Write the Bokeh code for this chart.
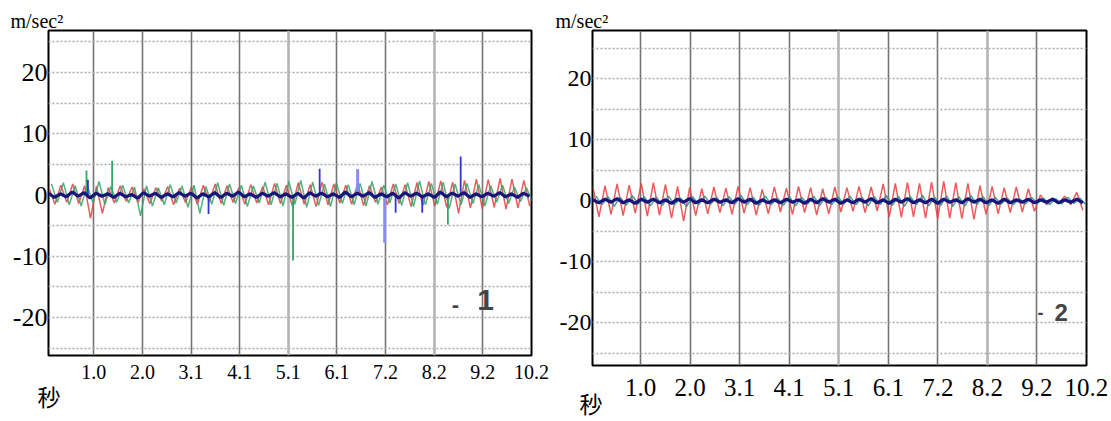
import numpy as np
from bokeh.plotting import figure
from bokeh.layouts import row
from bokeh.models import FixedTicker, Label, Range1d, CustomJSTickFormatter, Title, Grid
from bokeh.embed import file_html
from bokeh.resources import INLINE

# ---------------- data ----------------
x_ticks = [1.024, 2.048, 3.072, 4.096, 5.12, 6.144, 7.168, 8.192, 9.216, 10.24]
x_tick_labels = ["1.0", "2.0", "3.1", "4.1", "5.1", "6.1", "7.2", "8.2", "9.2", "10.2"]
y_ticks = [-20, -10, 0, 10, 20]
y_tick_labels = ["-20", "-10", "0", "10", "20"]
dotted_levels = [-25, -20, -15, -10, -5, 5, 10, 15, 20, 25]
light_grid_idx = [4, 7]   # the 5.1 s and 8.2 s lines are printed lighter

SAMPLE_DT = 0.125  # seconds between stored samples

# left chart (- 1)
L_RED_T0 = 0.08
L_RED = [1.2, -1.5, 1.6, -1.2, 1.8, -1.4, 1.5, -3.8, 1.4, -3.0,
         1.2, -1.3, 1.5, -1.0, 1.3, -1.2, 1.0, -1.4, 1.2, -1.0,
         1.4, -1.6, 1.1, -1.2, 1.3, -1.5, 1.6, -1.1, 1.8, -1.4,
         1.5, -1.2, 1.2, -1.5, 1.7, -1.3, 1.4, -1.6, 1.9, -1.4,
         1.6, -1.8, 2.0, -1.5, 1.7, -1.9, 2.1, -1.6, 1.8, -1.3,
         1.6, -1.5, 1.9, -1.7, 1.5, -1.2, 1.3, -1.6, 1.8, -1.4,
         1.7, -1.9, 2.0, -1.7, 2.2, -1.8, 2.3, -2.0, 2.1, -3.0,
         2.4, -2.1, 2.6, -2.2, 2.5, -2.0, 2.7, -2.3, 2.6, -2.1,
         2.4, -1.8]
L_GREEN_T0 = 0.1325
L_GREEN = [1.8, -1.2, 2.0, -1.6, 1.5, -1.8, 1.6, -1.3, 2.2, -1.5,
           1.4, -1.2, 1.6, -1.3, 1.3, -3.4, 1.5, -1.8, 1.2, -1.6,
           1.7, -1.3, 1.5, -2.0, 1.6, -3.0, 1.4, -1.5, 2.0, -1.7,
           1.8, -1.4, 1.6, -1.9, 1.5, -1.3, 2.1, -1.6, 1.9, -1.8,
           2.2, -1.5, 2.4, -2.0, 2.1, -1.7, 1.8, -1.9, 2.0, -1.4,
           1.7, -1.6, 1.9, -1.8, 2.2, -1.5, 1.6, -1.3, 1.8, -1.7,
           2.0, -1.9, 2.3, -1.6, 1.9, -1.5, 2.1, -2.2, 1.8, -1.6,
           1.9, -1.4, 1.7, -1.8, 1.5, -1.2, 1.6, -1.4, 1.3, -1.1,
           1.2, -1.0]
L_NAVY_T0 = 0.07
L_NAVY = [0.3, -0.4, 0.2, -0.3, 0.5, -0.2, 0.4, -0.5, 0.3, -0.2,
          0.2, -0.4, 0.3, -0.3, 0.1, -0.5, 0.4, -0.2, 0.3, -0.4,
          0.2, -0.3, 0.4, -0.2, 0.3, -0.5, 0.2, -0.3, 0.4, -0.4,
          0.3, -0.2, 0.5, -0.3, 0.2, -0.4, 0.3, -0.2, 0.4, -0.3,
          0.2, -0.4, 0.3, -0.5, 0.4, -0.2, 0.3, -0.3, 0.2, -0.4,
          0.5, -0.3, 0.3, -0.2, 0.4, -0.4, 0.2, -0.3, 0.3, -0.5,
          0.4, -0.2, 0.3, -0.3, 0.2, -0.4, 0.5, -0.3, 0.3, -0.2,
          0.4, -0.4, 0.2, -0.3, 0.3, -0.2, 0.4, -0.3, 0.2, -0.4,
          0.3, -0.2]
L_GREEN_SPIKE_T = [0.87, 1.41, 5.22, 8.48]
L_GREEN_SPIKE_V = [4.0, 5.6, -10.7, -4.8]
L_BLUE_SPIKE_T = [0.90, 3.44, 5.78, 7.38, 7.94, 8.75]
L_BLUE_SPIKE_V = [2.5, -3.1, 4.3, -2.9, -2.9, 6.3]
L_LBLUE_SPIKE_T = [6.58, 7.15]
L_LBLUE_SPIKE_V = [4.2, -7.8]

# right chart (- 2)
R_RED_T0 = 0.04
R_RED = [2.3, -2.6, 2.5, -2.2, 2.8, -2.4, 2.6, -2.0, 2.9, -2.5,
         3.0, -2.3, 2.7, -2.8, 2.4, -3.3, 2.2, -2.4, 2.0, -2.1,
         2.3, -1.9, 2.1, -2.2, 2.4, -2.0, 2.2, -2.3, 1.9, -2.1,
         2.3, -1.8, 2.1, -2.2, 2.4, -1.9, 2.2, -2.3, 2.0, -2.1,
         2.3, -1.8, 2.2, -1.7, 2.4, -1.9, 2.3, -1.6, 2.8, -2.6,
         2.9, -2.7, 3.0, -2.6, 2.9, -2.8, 3.1, -2.9, 3.2, -2.8,
         3.0, -2.9, 2.9, -3.0, 2.5, -2.2, 2.4, -2.1, 2.2, -1.9,
         2.3, -1.8, 2.0, -1.7, 1.0, -0.6, 0.5, -0.4, 0.8, -0.6,
         1.4, -1.5]
R_TEAL_T0 = 0.1025
R_TEAL = [0.8, -0.6, 0.7, -0.9, 0.6, -0.7, 0.9, -0.5, 0.7, -0.8,
          0.6, -0.7, 0.8, -0.6, 0.5, -0.9, 0.7, -0.6, 0.8, -0.5,
          0.6, -0.8, 0.7, -0.5, 0.9, -0.6, 0.6, -0.7, 0.8, -0.6,
          0.5, -0.7, 0.7, -0.8, 0.6, -0.5, 0.8, -0.7, 0.6, -0.6,
          0.7, -0.5, 0.8, -0.6, 0.6, -0.8, 0.7, -0.6, 0.9, -0.7,
          0.8, -0.9, 0.7, -0.6, 0.9, -0.8, 0.6, -0.7, 0.8, -0.9,
          0.7, -0.8, 0.9, -0.6, 0.7, -0.7, 0.6, -0.5, 0.5, -0.6,
          0.4, -0.5, 0.6, -0.4, 0.5, -0.6, 0.4, -0.5, 0.6, -0.4,
          0.5, -0.6]
R_NAVY_T0 = 0.04
R_NAVY = [0.2, -0.3, 0.3, -0.2, 0.4, -0.3, 0.2, -0.4, 0.3, -0.2,
          0.3, -0.3, 0.2, -0.4, 0.3, -0.2, 0.4, -0.3, 0.2, -0.3,
          0.3, -0.2, 0.2, -0.3, 0.4, -0.2, 0.3, -0.4, 0.2, -0.3,
          0.2, -0.3, 0.3, -0.2, 0.2, -0.4, 0.3, -0.3, 0.4, -0.2,
          0.3, -0.4, 0.2, -0.3, 0.3, -0.2, 0.4, -0.3, 0.2, -0.4,
          0.3, -0.2, 0.4, -0.3, 0.2, -0.3, 0.3, -0.4, 0.3, -0.2,
          0.2, -0.3, 0.4, -0.2, 0.3, -0.3, 0.2, -0.4, 0.3, -0.3,
          0.2, -0.2, 0.3, -0.3, 0.2, -0.2, 0.3, -0.3, 0.2, -0.2,
          0.3, -0.3]

# ---------------- styling ----------------
RED = "#e5403f"
GREEN = "#35a36a"
TEAL = "#2a9088"
NAVY = "#15157a"
BLUE = "#3434d2"
LBLUE = "#8a8af0"
SERIF = "Liberation Serif"
CJK = "Noto Sans CJK JP"


def times(t0, vals):
    return t0 + SAMPLE_DT * np.arange(len(vals))


def fmt(vals, labels):
    return CustomJSTickFormatter(args=dict(vals=vals, labels=labels), code="""
        let best = 0;
        for (let i = 0; i < vals.length; i++) {
            if (Math.abs(vals[i] - tick) < Math.abs(vals[best] - tick)) best = i;
        }
        return labels[best];
    """)


def make_panel(xr, yr, fw, fh, mbl, mbr, mbt, mbb, ylab_size, xlab_size, xstand,
               unit_offset, sec_offset, sec_standoff):
    p = figure(frame_width=fw, frame_height=fh, x_range=Range1d(*xr), y_range=Range1d(*yr),
               output_backend="svg", toolbar_location=None,
               min_border_left=mbl, min_border_right=mbr, min_border_top=mbt,
               min_border_bottom=mbb)
    p.background_fill_color = "white"
    p.border_fill_color = "white"
    p.outline_line_color = "black"
    p.outline_line_width = 2
    p.outline_line_alpha = 1.0

    p.xaxis.ticker = FixedTicker(ticks=x_ticks)
    p.xaxis.formatter = fmt(x_ticks, x_tick_labels)
    p.yaxis.ticker = FixedTicker(ticks=y_ticks)
    p.yaxis.formatter = fmt(y_ticks, y_tick_labels)
    for ax in (p.xaxis, p.yaxis):
        ax.axis_line_color = None
        ax.major_tick_line_color = None
        ax.minor_tick_line_color = None
        ax.major_tick_out = 0
        ax.major_tick_in = 0
        ax.minor_tick_out = 0
        ax.minor_tick_in = 0
        ax.major_label_text_font = SERIF
        ax.major_label_text_color = "black"
    p.xaxis.major_label_text_font_size = xlab_size
    p.yaxis.major_label_text_font_size = ylab_size
    p.xaxis.major_label_standoff = xstand
    p.yaxis.major_label_standoff = 1

    dark = [t for i, t in enumerate(x_ticks[:-1]) if i not in light_grid_idx]
    light = [x_ticks[i] for i in light_grid_idx]
    p.xgrid.ticker = FixedTicker(ticks=dark)
    p.xgrid.grid_line_color = "#747474"
    p.xgrid.grid_line_width = 1.6
    p.add_layout(Grid(dimension=0, ticker=FixedTicker(ticks=light),
                      grid_line_color="#b4b4b4", grid_line_width=2.6))
    p.ygrid.ticker = FixedTicker(ticks=dotted_levels)
    p.ygrid.grid_line_color = "#a9a9a9"
    p.ygrid.grid_line_width = 1.3
    p.ygrid.grid_line_dash = "2 2"

    # unit text above the frame, at its top-left corner
    p.title.text = "m/sec²"
    p.title.align = "left"
    p.title.offset = unit_offset
    p.title.standoff = -3
    p.title.text_font = SERIF
    p.title.text_font_size = "20px"
    p.title.text_font_style = "normal"
    p.title.text_color = "black"
    # "秒" below the tick labels
    p.add_layout(Title(text="秒", align="left", offset=sec_offset, standoff=sec_standoff,
                       text_font=CJK, text_font_size="23px", text_font_style="normal",
                       text_color="black"), "below")
    return p


# ---------- left panel ----------
p1 = make_panel((0.070, 10.241), (-26.2, 26.86), 483, 325, 48, 21, 28, 60, "26px", "20px", 9,
                -38, -11, -10)
p1.line(times(L_RED_T0, L_RED), L_RED, line_color=RED, line_width=1.5, line_alpha=0.85)
p1.line(times(L_GREEN_T0, L_GREEN), L_GREEN, line_color=GREEN, line_width=1.5, line_alpha=0.85)
p1.segment(x0=L_GREEN_SPIKE_T, y0=[0] * len(L_GREEN_SPIKE_T), x1=L_GREEN_SPIKE_T,
           y1=L_GREEN_SPIKE_V, line_color=GREEN, line_width=1.8)
p1.segment(x0=L_LBLUE_SPIKE_T, y0=[0] * len(L_LBLUE_SPIKE_T), x1=L_LBLUE_SPIKE_T,
           y1=L_LBLUE_SPIKE_V, line_color=LBLUE, line_width=3)
p1.segment(x0=L_BLUE_SPIKE_T, y0=[0] * len(L_BLUE_SPIKE_T), x1=L_BLUE_SPIKE_T,
           y1=L_BLUE_SPIKE_V, line_color=BLUE, line_width=1.8)
p1.line(times(L_NAVY_T0, L_NAVY), L_NAVY, line_color=NAVY, line_width=3.2)

p1.add_layout(Label(x=8.64, y=-17.9, text="-", text_font="Liberation Sans",
                    text_font_style="bold", text_font_size="22px", text_align="center",
                    text_baseline="middle"))
p1.add_layout(Label(x=9.10, y=-17.2, text="1", text_font="Liberation Sans",
                    text_font_style="bold", text_font_size="30px", text_align="left",
                    text_baseline="middle"))

# ---------- right panel ----------
p2 = make_panel((0.032, 10.241), (-26.97, 27.95), 494, 335, 40, 22, 30, 55, "24px", "25px", 13,
                -37, -13, -30)
p2.line(times(R_RED_T0, R_RED), R_RED, line_color=RED, line_width=1.5, line_alpha=0.85)
p2.line(times(R_TEAL_T0, R_TEAL), R_TEAL, line_color=TEAL, line_width=1.5, line_alpha=0.85)
p2.line(times(R_NAVY_T0, R_NAVY), R_NAVY, line_color=NAVY, line_width=3.2)

p2.add_layout(Label(x=9.29, y=-18.3, text="-", text_font="Liberation Sans",
                    text_font_style="bold", text_font_size="18px", text_align="center",
                    text_baseline="middle"))
p2.add_layout(Label(x=9.58, y=-18.3, text="2", text_font="Liberation Sans",
                    text_font_style="bold", text_font_size="24px", text_align="left",
                    text_baseline="middle"))

layout = row(p1, p2)
open("out.html", "w").write(file_html(layout, INLINE))
